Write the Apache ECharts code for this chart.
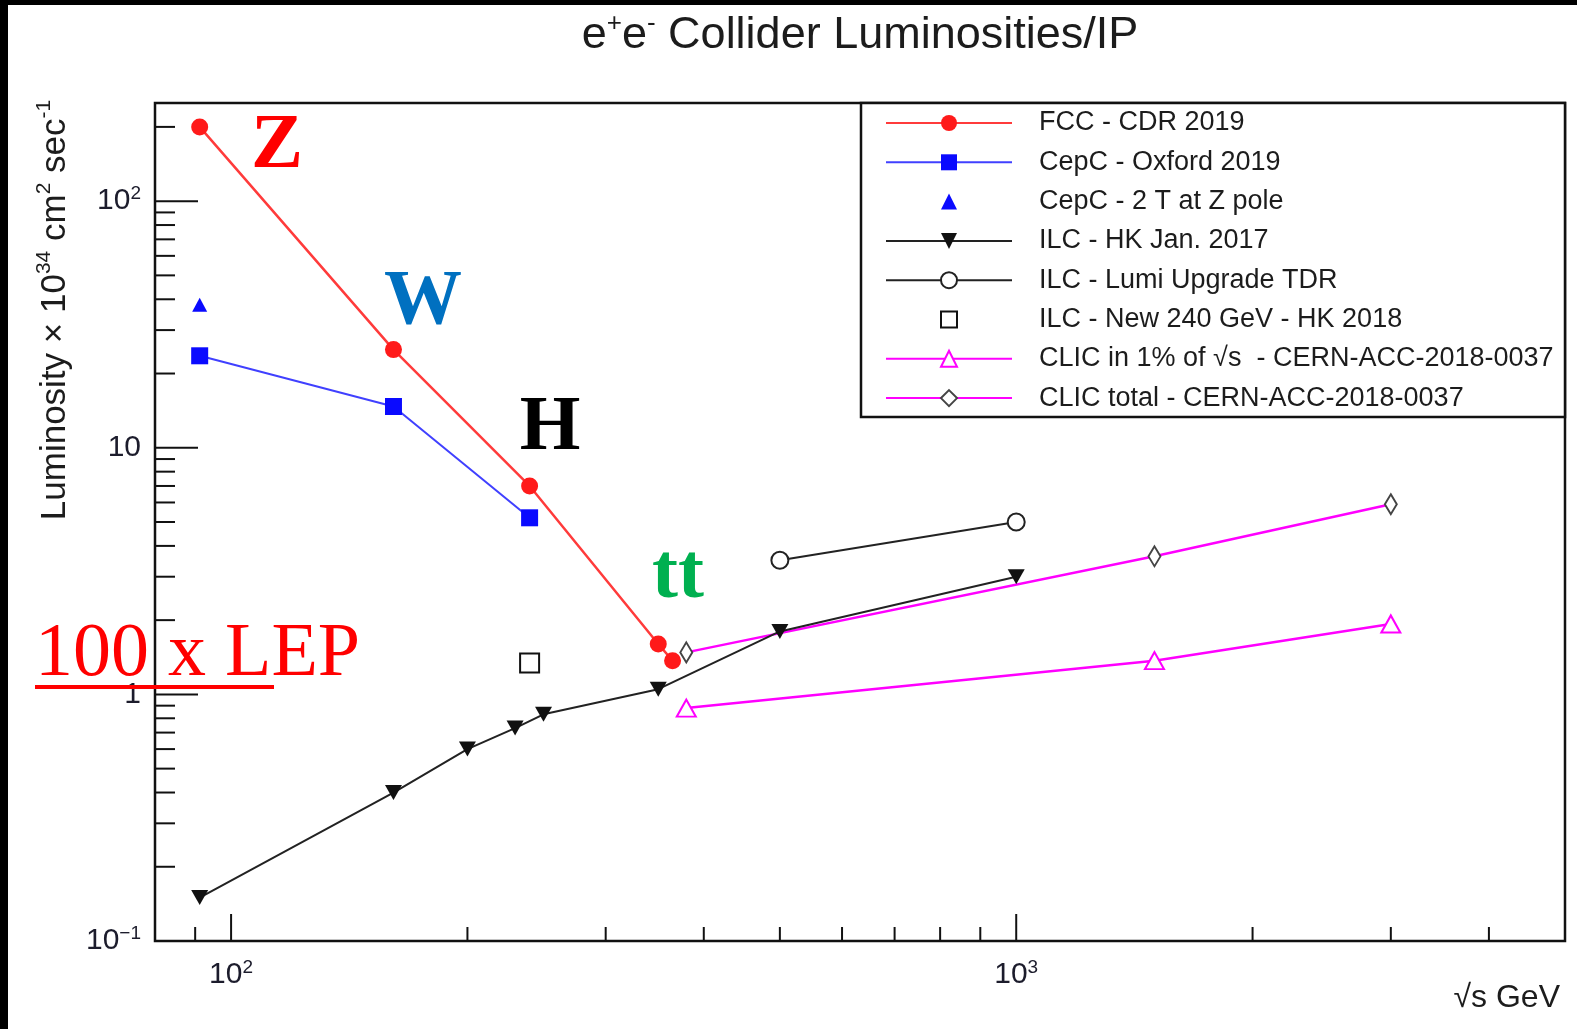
<!DOCTYPE html>
<html>
<head>
<meta charset="utf-8">
<title>e+e- Collider Luminosities/IP</title>
<script src="https://cdn.jsdelivr.net/npm/echarts@6/dist/echarts.min.js"></script>
<style>
  html, body { margin: 0; padding: 0; background: #fff; }
  #chart { width: 1577px; height: 1029px; }
</style>
</head>
<body>
<div id="chart"></div>
<script>
// ---- data: centre-of-mass energy (GeV) and luminosity per IP (10^34 cm^-2 s^-1) ----
const fccEnergy     = [91.2, 161, 240, 350, 365];
const fccLumi       = [200, 25, 7.0, 1.6, 1.37];

const cepcEnergy    = [91.2, 161, 240];
const cepcLumi      = [23.6, 14.7, 5.2];

const cepc2TEnergy  = [91.2];
const cepc2TLumi    = [38];

const ilcEnergy     = [91.2, 161, 200, 230, 250, 350, 500, 1000];
const ilcLumi       = [0.15, 0.40, 0.60, 0.73, 0.83, 1.05, 1.8, 3.0];

const ilcUpEnergy   = [500, 1000];
const ilcUpLumi     = [3.5, 5.0];

const ilc240Energy  = [240];
const ilc240Lumi    = [1.34];

const clic1Energy   = [380, 1500, 3000];
const clic1Lumi     = [0.88, 1.37, 1.93];

const clicTotEnergy = [380, 1500, 3000];
const clicTotLumi   = [1.48, 3.63, 5.9];

const seriesNames = [
  'FCC - CDR 2019',
  'CepC - Oxford 2019',
  'CepC - 2 T at Z pole',
  'ILC - HK Jan. 2017',
  'ILC - Lumi Upgrade TDR',
  'ILC - New 240 GeV - HK 2018',
  'CLIC in 1% of \u221As  - CERN-ACC-2018-0037',
  'CLIC total - CERN-ACC-2018-0037'
];

// tick positions on the two logarithmic axes
const xTicks = [90, 100, 200, 300, 400, 500, 600, 700, 800, 900, 1000, 2000, 3000, 4000];
const yTicks = [0.2, 0.3, 0.4, 0.5, 0.6, 0.7, 0.8, 0.9, 1,
                2, 3, 4, 5, 6, 7, 8, 9, 10,
                20, 30, 40, 50, 60, 70, 80, 90, 100, 200];

const X_MIN = 80, X_MAX = 5000;
const Y_MIN = 0.1, Y_MAX = 250;

const SANS = "'Liberation Sans', Arial, Helvetica, sans-serif";
const SERIF = "'Liberation Serif', 'Times New Roman', serif";
const INK = '#1c1c1c';

const pairs = (xs, ys) => xs.map((x, i) => [x, ys[i]]);
const isDecade = v => Math.abs(Math.log10(v) - Math.round(Math.log10(v))) < 1e-6;

// power-of-ten labels, written as 10 with a superscript exponent
function powerLabel(v) {
  if (!isDecade(v)) return '';
  const e = Math.round(Math.log10(v));
  if (e === 0) return '{b|1}';
  if (e === 1) return '{b|10}';
  return '{b|10}{s|' + (e < 0 ? '\u2212' + Math.abs(e) : e) + '}';
}
const labelRich = {
  b: { fontFamily: SANS, fontSize: 30, color: '#1c1c2c', lineHeight: 34 },
  s: { fontFamily: SANS, fontSize: 19, color: '#1c1c2c', lineHeight: 20, verticalAlign: 'top' }
};

// legend rows: markers without a connecting line for the single-point entries
const noLine = { width: 0, opacity: 0 };
const legendData = seriesNames.map((name, i) =>
  (i === 2 || i === 5) ? { name: name, lineStyle: noLine } : { name: name });

const chart = echarts.init(document.getElementById('chart'), null, { renderer: 'canvas' });

const option = {
  animation: false,
  backgroundColor: '#ffffff',
  grid: {
    left: 155, right: 12, top: 103, bottom: 88,
    show: true, borderColor: '#111', borderWidth: 2.5, backgroundColor: 'transparent'
  },
  xAxis: {
    type: 'log', logBase: 10, min: X_MIN, max: X_MAX,
    axisLine: { show: false }, axisTick: { show: false }, splitLine: { show: false },
    axisLabel: { formatter: powerLabel, margin: 17, rich: labelRich, showMinLabel: false, showMaxLabel: false }
  },
  yAxis: {
    type: 'log', logBase: 10, min: Y_MIN, max: Y_MAX,
    axisLine: { show: false }, axisTick: { show: false }, splitLine: { show: false },
    axisLabel: { formatter: powerLabel, margin: 14, rich: labelRich, showMaxLabel: false }
  },
  legend: {
    orient: 'vertical',
    left: 885, top: 108, padding: 0,
    itemWidth: 126, itemHeight: 20, itemGap: 9.3,
    selectedMode: false,
    textStyle: { fontFamily: SANS, fontSize: 27, color: INK, lineHeight: 30, padding: [0, 0, 0, 22] },
    data: legendData
  },
  series: [
    {
      name: seriesNames[0], type: 'line', data: pairs(fccEnergy, fccLumi),
      symbol: 'circle', symbolSize: 17,
      itemStyle: { color: '#ff1a1a' }, lineStyle: { color: '#ff3b3b', width: 2.5 }, z: 6
    },
    {
      name: seriesNames[1], type: 'line', data: pairs(cepcEnergy, cepcLumi),
      symbol: 'rect', symbolSize: 17,
      itemStyle: { color: '#0a0aff' }, lineStyle: { color: '#4040ff', width: 2 }, z: 5
    },
    {
      name: seriesNames[2], type: 'line', data: pairs(cepc2TEnergy, cepc2TLumi),
      symbol: 'triangle', symbolSize: [15, 14],
      itemStyle: { color: '#0a0aff' }, lineStyle: { width: 0 }, z: 5
    },
    {
      name: seriesNames[3], type: 'line', data: pairs(ilcEnergy, ilcLumi),
      symbol: 'path://M0,0 L10,0 L5,9 Z', symbolSize: [17, 15],
      itemStyle: { color: '#111' }, lineStyle: { color: '#222', width: 2 }, z: 4
    },
    {
      name: seriesNames[4], type: 'line', data: pairs(ilcUpEnergy, ilcUpLumi),
      symbol: 'emptyCircle', symbolSize: 17,
      itemStyle: { color: '#222', borderWidth: 2 }, lineStyle: { color: '#222', width: 2 }, z: 4
    },
    {
      name: seriesNames[5], type: 'line', data: pairs(ilc240Energy, ilc240Lumi),
      symbol: 'emptyRect', symbolSize: 19,
      itemStyle: { color: '#111', borderWidth: 2.5 }, lineStyle: { width: 0 }, z: 4
    },
    {
      name: seriesNames[6], type: 'line', data: pairs(clic1Energy, clic1Lumi),
      symbol: 'emptyTriangle', symbolSize: [19, 17],
      itemStyle: { color: '#ff00ff', borderWidth: 2 }, lineStyle: { color: '#ff00ff', width: 2.5 }, z: 3
    },
    {
      name: seriesNames[7], type: 'line', data: pairs(clicTotEnergy, clicTotLumi),
      symbol: 'emptyDiamond', symbolSize: [12, 20],
      itemStyle: { color: '#444', borderWidth: 2 }, lineStyle: { color: '#ff00ff', width: 2.5 }, z: 3
    },
    // ticks along the bottom edge of the frame
    {
      type: 'custom', silent: true, clip: false, z: 7,
      data: xTicks.map(v => [v, Y_MIN]),
      renderItem: (params, api) => {
        const v = api.value(0);
        const p = api.coord([v, api.value(1)]);
        const len = isDecade(v) ? 27 : 14;
        return { type: 'line', shape: { x1: p[0], y1: p[1], x2: p[0], y2: p[1] - len },
                 style: { stroke: '#111', lineWidth: 2 } };
      }
    },
    // ticks along the left edge of the frame
    {
      type: 'custom', silent: true, clip: false, z: 7,
      data: yTicks.map(v => [X_MIN, v]),
      renderItem: (params, api) => {
        const v = api.value(1);
        const p = api.coord([api.value(0), v]);
        const len = isDecade(v) ? 43 : 20;
        return { type: 'line', shape: { x1: p[0], y1: p[1], x2: p[0] + len, y2: p[1] },
                 style: { stroke: '#111', lineWidth: 2 } };
      }
    }
  ],
  graphic: {
    elements: [
      // dark border strips along the top and left edges
      { type: 'rect', shape: { x: 0, y: 0, width: 1577, height: 5 }, style: { fill: '#000' }, z: 100 },
      { type: 'rect', shape: { x: 0, y: 0, width: 8, height: 1029 }, style: { fill: '#000' }, z: 100 },
      // legend frame
      { type: 'rect', shape: { x: 861, y: 103, width: 704, height: 314 },
        style: { fill: '#fff', stroke: '#111', lineWidth: 2.5 }, z: 1 },
      // title
      { type: 'text', x: 860, y: 36, z: 10,
        style: {
          text: '{n|e}{s|+}{n|e}{s|-}{n| Collider Luminosities/IP}',
          textAlign: 'center', textVerticalAlign: 'middle',
          rich: {
            n: { fontFamily: SANS, fontSize: 45, fill: INK, lineHeight: 50 },
            s: { fontFamily: SANS, fontSize: 26, fill: INK, lineHeight: 26, verticalAlign: 'top' }
          }
        } },
      // y-axis title
      { type: 'text', x: 55, y: 310, rotation: Math.PI / 2, z: 10,
        style: {
          text: '{n|Luminosity \u00d7 10}{s|34}{n| cm}{s|2}{n| sec}{s|-1}',
          textAlign: 'center', textVerticalAlign: 'middle',
          rich: {
            n: { fontFamily: SANS, fontSize: 35, fill: INK, lineHeight: 42 },
            s: { fontFamily: SANS, fontSize: 21, fill: INK, lineHeight: 21, verticalAlign: 'top' }
          }
        } },
      // x-axis title
      { type: 'text', x: 1560, y: 998, z: 10,
        style: { text: '\u221As GeV', fontFamily: SANS, fontSize: 32, fill: INK,
                 textAlign: 'right', textVerticalAlign: 'middle' } },
      // physics-channel annotations
      { type: 'text', x: 277, y: 147, z: 20,
        style: { text: 'Z', fontFamily: SERIF, fontWeight: 'bold', fontSize: 78, fill: '#ff0000',
                 textAlign: 'center', textVerticalAlign: 'middle' } },
      { type: 'text', x: 423, y: 303, z: 20,
        style: { text: 'W', fontFamily: SERIF, fontWeight: 'bold', fontSize: 78, fill: '#0070c0',
                 textAlign: 'center', textVerticalAlign: 'middle' } },
      { type: 'text', x: 550, y: 429, z: 20,
        style: { text: 'H', fontFamily: SERIF, fontWeight: 'bold', fontSize: 78, fill: '#000',
                 textAlign: 'center', textVerticalAlign: 'middle' } },
      { type: 'text', x: 678, y: 577, z: 20,
        style: { text: 'tt', fontFamily: SERIF, fontWeight: 'bold', fontSize: 78, fill: '#00b050',
                 textAlign: 'center', textVerticalAlign: 'middle' } },
      { type: 'text', x: 35, y: 655, z: 20,
        style: { text: '100 x LEP', fontFamily: SERIF, fontSize: 76, fill: '#ff0000',
                 textAlign: 'left', textVerticalAlign: 'middle' } },
      { type: 'line', z: 20, shape: { x1: 35, y1: 687, x2: 274, y2: 687 },
        style: { stroke: '#ff0000', lineWidth: 4 } }
    ]
  }
};

chart.setOption(option);
</script>
</body>
</html>
